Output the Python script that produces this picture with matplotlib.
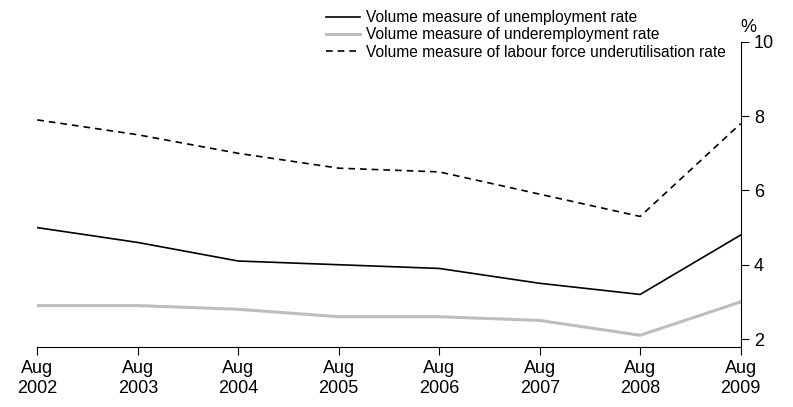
import matplotlib.pyplot as plt

plt.rcParams['font.family'] = ['Liberation Sans', 'DejaVu Sans']

years = ["Aug\n2002", "Aug\n2003", "Aug\n2004", "Aug\n2005", "Aug\n2006", "Aug\n2007", "Aug\n2008", "Aug\n2009"]
unemployment = [5.0, 4.6, 4.1, 4.0, 3.9, 3.5, 3.2, 4.8]
underemployment = [2.9, 2.9, 2.8, 2.6, 2.6, 2.5, 2.1, 3.0]
underutilisation = [7.9, 7.5, 7.0, 6.6, 6.5, 5.9, 5.3, 7.8]

fig = plt.figure(figsize=(7.93, 4.07), dpi=100)
ax = fig.add_axes([0.047, 0.147, 0.887, 0.75])
x = range(len(years))
ax.plot(x, unemployment, color="black", lw=1.2, label="Volume measure of unemployment rate")
ax.plot(x, underemployment, color="#bdbdbd", lw=2.2, label="Volume measure of underemployment rate")
ax.plot(x, underutilisation, color="black", lw=1.2, ls=(0, (4, 3)), label="Volume measure of labour force underutilisation rate")

ax.set_xlim(0, len(years) - 1)
ax.set_ylim(1.78, 10)
ax.set_xticks(list(x))
ax.set_xticklabels(years, fontsize=13)
ax.set_yticks([2, 4, 6, 8, 10])
ax.yaxis.tick_right()
ax.tick_params(axis="y", labelsize=13, direction="out", length=6)
ax.tick_params(axis="x", direction="out", length=6)
for s in ["top", "left"]:
    ax.spines[s].set_visible(False)
ax.text(1.0, 1.02, "%", transform=ax.transAxes, fontsize=13, ha="left", va="bottom")
ax.legend(loc="upper right", bbox_to_anchor=(0.99, 1.13), frameon=False, fontsize=11.2,
          handlelength=2.2, handletextpad=0.4, labelspacing=0.15, borderpad=0)

fig.savefig("out.png", dpi=100)
